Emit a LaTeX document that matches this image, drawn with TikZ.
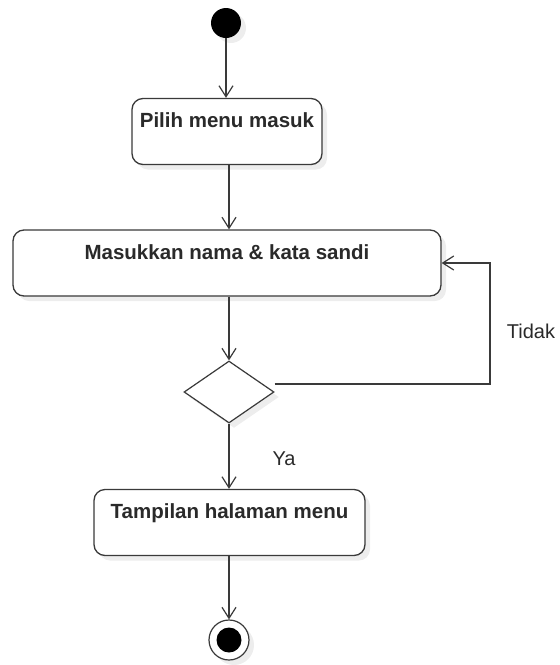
\documentclass[tikz,border=0pt]{standalone}
\usepackage{fontspec}
\setmainfont{Liberation Sans}
\usetikzlibrary{shapes.geometric,arrows.meta,shadows}
\definecolor{ln}{HTML}{3A3A3A}
\definecolor{tx}{HTML}{2A2A2A}
\begin{document}
\begin{tikzpicture}[x=1pt,y=-1pt,
  soft/.style={drop shadow={fill=black,opacity=0.07,shadow xshift=5pt,shadow yshift=-5pt}},
  actbox/.style={draw=ln,line width=1.3pt,rounded corners=11pt,fill=white,soft,
    font=\fontsize{20.5}{24}\selectfont\bfseries,text=tx,
    text height=25pt,text depth=33pt,inner ysep=4pt,inner xsep=0pt},
  flow/.style={draw=ln,line width=1.2pt,-{Straight Barb[length=11pt,width=14pt]}},
  lbl/.style={font=\fontsize{20}{24}\selectfont,text=tx}]
\useasboundingbox (0,0) rectangle (560,665);
\node[circle,fill=black,minimum size=30pt,inner sep=0pt,soft] (start) at (226,23) {};
\node[actbox,minimum width=190pt] (pilih) at (227,131.5) {Pilih menu masuk};
\node[actbox,minimum width=428pt] (masuk) at (227,263) {Masukkan nama \& kata sandi};
\node[diamond,draw=ln,line width=1.2pt,fill=white,minimum width=90pt,minimum height=62pt,inner sep=0pt,soft] (dec) at (229,392) {};
\node[actbox,minimum width=271pt] (tampil) at (229.5,522.5) {Tampilan halaman menu};
\node[circle,draw=ln,line width=1.2pt,fill=white,minimum size=40pt,inner sep=0pt,soft] (endo) at (229,640) {};
\node[circle,fill=black,minimum size=25pt,inner sep=0pt] (endi) at (endo.center) {};
\coordinate (c1) at (490,384);
\coordinate (c2) at (490,263);
\draw[flow] (start.south) -- (start.south |- pilih.north);
\draw[flow] (pilih.south -| dec.north) -- (masuk.north -| dec.north);
\draw[flow] (masuk.south -| dec.north) -- (dec.north);
\draw[flow] (dec.south) -- (tampil.north -| dec.south);
\draw[flow] (tampil.south -| endo.north) -- (endo.north);
\draw[flow] ([yshift=8pt]dec.east) -- (c1) -- (c2) -- (masuk.east);
\node[lbl] (tidak) at (531,331) {Tidak};
\node[lbl] (ya) at (284,459) {Ya};
\end{tikzpicture}
\end{document}
